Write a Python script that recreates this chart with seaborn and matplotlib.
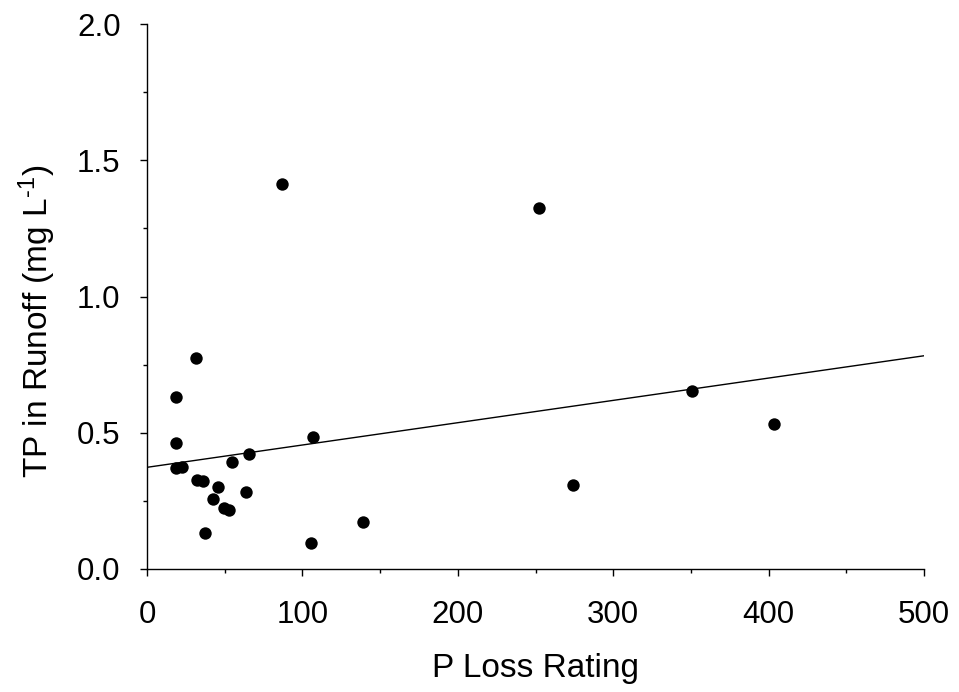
import numpy as np
import pandas as pd
import matplotlib
matplotlib.use("Agg")
import matplotlib.pyplot as plt
from matplotlib.ticker import MultipleLocator
import seaborn as sns

# P Loss Rating vs total phosphorus concentration in runoff
p_loss_rating = [18.5, 18.5, 18.5, 22.7, 31.5, 32.4, 35.8, 37.5, 42.4, 45.4,
                 49.7, 52.9, 54.4, 63.4, 65.6, 86.6, 105.7, 107.0, 139.0,
                 252.2, 274.3, 350.4, 403.5]
tp_runoff = [0.630, 0.464, 0.370, 0.376, 0.773, 0.328, 0.322, 0.133, 0.257,
             0.300, 0.225, 0.218, 0.392, 0.283, 0.421, 1.414, 0.095, 0.483,
             0.171, 1.325, 0.307, 0.653, 0.532]

x_ticks = [0, 100, 200, 300, 400, 500]
y_ticks = [0.0, 0.5, 1.0, 1.5, 2.0]
y_tick_labels = ["0.0", "0.5", "1.0", "1.5", "2.0"]

df = pd.DataFrame({"rating": p_loss_rating, "tp": tp_runoff})

sns.set_theme(style="ticks")
plt.rcParams["font.family"] = ["Liberation Sans", "DejaVu Sans"]
plt.rcParams["mathtext.fontset"] = "custom"
plt.rcParams["mathtext.rm"] = "Liberation Sans"
plt.rcParams["mathtext.it"] = "Liberation Sans"

fig = plt.figure(figsize=(9.59, 6.92), dpi=100)
ax = fig.add_axes([147 / 959, 1 - 569 / 692, 777 / 959, 545 / 692])
ax.set_xlim(0, 500)
ax.set_ylim(0, 2.0)

# scatter plus least-squares line spanning the full x range
sns.regplot(data=df, x="rating", y="tp", ax=ax, ci=None, truncate=False,
            color="black",
            scatter_kws={"s": 80, "linewidths": 0, "alpha": 1},
            line_kws={"linewidth": 1.0})

ax.set_xlim(0, 500)
ax.set_ylim(0, 2.0)
ax.set_xticks(x_ticks)
ax.set_yticks(y_ticks)
ax.set_yticklabels(y_tick_labels)
ax.xaxis.set_minor_locator(MultipleLocator(50))
ax.yaxis.set_minor_locator(MultipleLocator(0.25))

for s in ("top", "right"):
    ax.spines[s].set_visible(False)
for s in ("left", "bottom"):
    ax.spines[s].set_linewidth(1.0)
    ax.spines[s].set_color("black")

ax.tick_params(axis="both", which="major", direction="out", length=5,
               width=1.0, color="black", labelsize=22.5, labelcolor="black")
ax.tick_params(axis="both", which="minor", direction="out", length=3,
               width=1.0, color="black")
ax.tick_params(axis="x", which="major", pad=17)
ax.tick_params(axis="y", which="major", pad=14)

ax.set_xlabel("P Loss Rating", fontsize=24, color="black")
ax.set_ylabel(r"TP in Runoff (mg L$^{\text{-}1}$)", fontsize=24,
              color="black")
ax.xaxis.set_label_coords(0.5, -0.155)
ax.yaxis.set_label_coords(-0.115, 0.455)

fig.savefig("out.png", dpi=100, facecolor="white")
